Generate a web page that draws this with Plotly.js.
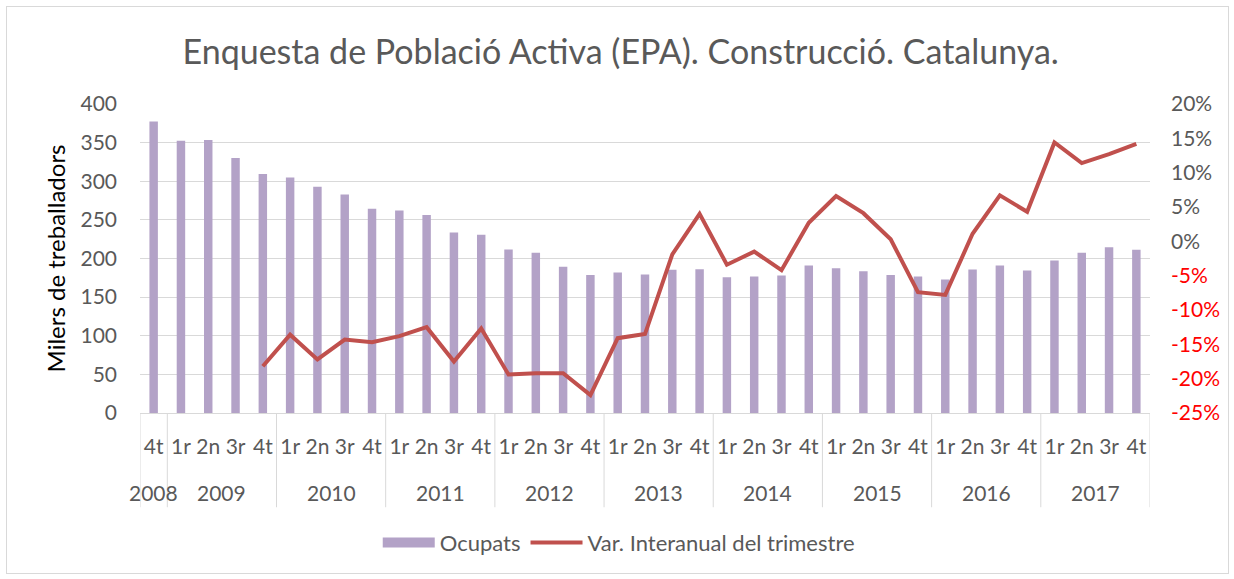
<!DOCTYPE html>
<html>
<head>
<meta charset="utf-8">
<script src="https://cdn.plot.ly/plotly-3.0.1.min.js"></script>
<style>
html,body{margin:0;padding:0;background:#fff;}
#wrap{position:relative;width:1234px;height:579px;}
#chart{position:absolute;left:0;top:0;width:1234px;height:579px;}
#frame{position:absolute;left:6px;top:6px;width:1221px;height:566px;border:1px solid #D9D9D9;pointer-events:none;}
</style>
</head>
<body>
<div id="wrap"><div id="chart"></div><div id="frame"></div></div>
<script>
const years = ['2008',
  '2009','2009','2009','2009',
  '2010','2010','2010','2010',
  '2011','2011','2011','2011',
  '2012','2012','2012','2012',
  '2013','2013','2013','2013',
  '2014','2014','2014','2014',
  '2015','2015','2015','2015',
  '2016','2016','2016','2016',
  '2017','2017','2017','2017'];
const quarters = ['4t',
  '1r','2n','3r','4t', '1r','2n','3r','4t', '1r','2n','3r','4t',
  '1r','2n','3r','4t', '1r','2n','3r','4t', '1r','2n','3r','4t',
  '1r','2n','3r','4t', '1r','2n','3r','4t', '1r','2n','3r','4t'];
const ocupats = [377.5,
  352.5, 353.3, 330.0, 309.3,
  305.0, 292.9, 283.0, 264.4,
  262.2, 256.2, 233.7, 230.7,
  211.7, 207.3, 189.2, 178.8,
  181.9, 179.3, 185.3, 186.2,
  175.8, 176.7, 178.0, 190.9,
  187.5, 183.6, 178.8, 176.7,
  172.8, 185.7, 190.9, 184.4,
  197.4, 207.3, 214.7, 211.2];
const varInteranual = [null,
  null, null, null, -18.2,
  -13.6, -17.2, -14.3, -14.7,
  -13.8, -12.5, -17.5, -12.7,
  -19.4, -19.2, -19.2, -22.4,
  -14.1, -13.5, -1.9, 4.0,
  -3.4, -1.5, -4.2, 2.7,
  6.6, 4.1, 0.3, -7.4,
  -7.8, 1.1, 6.7, 4.3,
  14.4, 11.4, 12.7, 14.2];
const leftTicks = [0, 50, 100, 150, 200, 250, 300, 350, 400];
const rightTicks = [-25, -20, -15, -10, -5, 0, 5, 10, 15, 20];

const FONT = 'Lato, "Open Sans", sans-serif';
const GREY = '#595959';
const GRID = '#D9D9D9';
const BAR = '#B3A2C7';
const LINE = '#C0504D';

// unique category keys (one per quarter), labelled with the quarter only
const keys = years.map((y, i) => y + ' ' + quarters[i]);
const pctVals = varInteranual.map(v => v === null ? null : v / 100);
const rightText = rightTicks.map(v => v < 0
  ? '<span style="color:#FF0000">' + v + '%</span>'
  : '<span style="color:' + GREY + '">' + v + '%</span>');

// year groups: first and last category index of each year
const groups = [];
years.forEach((y, i) => {
  const g = groups[groups.length - 1];
  if (g && g.year === y) g.end = i; else groups.push({year: y, start: i, end: i});
});

const annotations = groups.map(g => ({
  xref: 'x', yref: 'paper', x: (g.start + g.end) / 2, y: -0.256,
  text: g.year, showarrow: false, xanchor: 'center', yanchor: 'middle',
  font: {family: FONT, size: 21, color: GREY}
}));
const shapes = [];
groups.forEach((g, k) => {
  if (k === 0) shapes.push({type: 'line', xref: 'x', yref: 'paper', x0: g.start - 0.5, x1: g.start - 0.5, y0: 0, y1: -0.305, line: {color: GRID, width: 1}});
  shapes.push({type: 'line', xref: 'x', yref: 'paper', x0: g.end + 0.5, x1: g.end + 0.5, y0: 0, y1: -0.305, line: {color: GRID, width: 1}});
});

const traces = [
  {
    type: 'bar', x: keys, y: ocupats, name: 'Ocupats',
    marker: {color: BAR}, yaxis: 'y', showlegend: false
  },
  {
    // legend entry for the bars (wide swatch as in the original)
    type: 'scatter', mode: 'lines', x: [keys[0]], y: [null], name: 'Ocupats',
    line: {color: BAR, width: 13}, showlegend: true, hoverinfo: 'skip'
  },
  {
    type: 'scatter', mode: 'lines', x: keys, y: pctVals,
    name: 'Var. Interanual del trimestre', yaxis: 'y2',
    line: {color: LINE, width: 4}, connectgaps: false
  }
];

const layout = {
  width: 1234, height: 579,
  margin: {l: 140, r: 84, t: 104, b: 166},
  paper_bgcolor: 'rgba(0,0,0,0)', plot_bgcolor: '#fff',
  font: {family: FONT, color: GREY, size: 20},
  title: {
    text: 'Enquesta de Població Activa (EPA). Construcció. Catalunya.',
    font: {family: FONT, size: 34, color: GREY},
    x: 0.503, xanchor: 'center', xref: 'container',
    y: 1 - 52/579, yanchor: 'middle', yref: 'container'
  },
  bargap: 0.69,
  showlegend: true,
  legend: {
    orientation: 'h', x: 0.474, xanchor: 'center', y: -0.42, yanchor: 'middle',
    font: {family: FONT, size: 22, color: GREY}, traceorder: 'normal',
    itemwidth: 52
  },
  annotations: annotations,
  shapes: shapes,
  xaxis: {
    type: 'category', tickmode: 'array', tickvals: keys, ticktext: quarters,
    range: [-0.5, keys.length - 0.5],
    tickangle: 0, showgrid: false, zeroline: false, automargin: false,
    showline: true, linecolor: GRID, linewidth: 1,
    tickfont: {family: FONT, size: 21, color: GREY},
    ticks: '', ticklabelstandoff: 15
  },
  yaxis: {
    range: [0, 400], tickmode: 'array', tickvals: leftTicks, automargin: false,
    showgrid: true, gridcolor: GRID, gridwidth: 1,
    zeroline: false, showline: false, ticks: '',
    tickfont: {family: FONT, size: 21, color: GREY},
    ticklabelstandoff: 22,
    title: {text: 'Milers de treballadors', font: {family: FONT, size: 24, color: '#000'}, standoff: 8}
  },
  yaxis2: {
    overlaying: 'y', side: 'right', automargin: false,
    range: [-0.25, 0.2], tickmode: 'array',
    tickvals: rightTicks.map(v => v / 100), ticktext: rightText,
    showgrid: false, zeroline: false, showline: false, ticks: '',
    tickfont: {family: FONT, size: 21, color: GREY},
    ticklabelstandoff: 20
  }
};

Plotly.newPlot('chart', traces, layout, {displayModeBar: false, staticPlot: true});
</script>
</body>
</html>
